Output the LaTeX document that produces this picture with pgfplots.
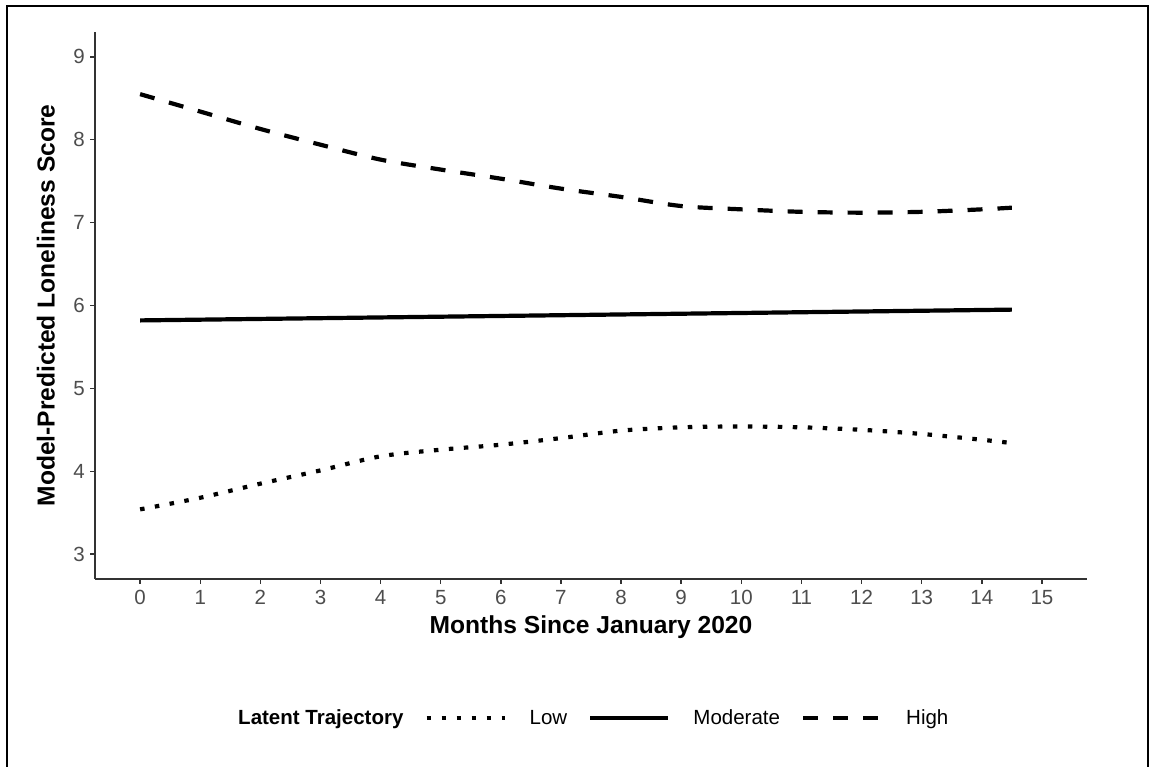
\documentclass[border=0pt]{standalone}
\usepackage{pgfplots}
\pgfplotsset{compat=1.18}
\usepackage{fontspec}
\setmainfont{Liberation Sans}
\definecolor{axgray}{HTML}{333333}
\definecolor{tkgray}{HTML}{4D4D4D}
\begin{document}
\begin{tikzpicture}[x=1bp,y=1bp]
\useasboundingbox (0,0) rectangle (1152,767);
\fill[white] (0,0) rectangle (1152,767);
\draw[line width=2bp] (7,-10) -- (7,761) -- (1148,761) -- (1148,-10);
\begin{axis}[
  at={(95bp,188bp)}, anchor=south west,
  width=992bp, height=547bp, scale only axis,
  xmin=-0.75, xmax=15.75, ymin=2.7, ymax=9.3,
  axis x line*=bottom, axis y line*=left,
  axis line style={line width=1.7bp, color=axgray},
  xtick={0,...,15}, ytick={3,...,9},
  tick align=outside, major tick length=5bp,
  tick style={line width=1.4bp, color=axgray},
  ticklabel style={font=\fontsize{20.5bp}{24bp}\selectfont, text=tkgray},
  xticklabel style={inner sep=0pt, yshift=-6bp},
  yticklabel style={inner sep=0pt, xshift=-5bp},
  /pgf/number format/assume math mode=true,
  xlabel={Months Since January 2020},
  ylabel={Model-Predicted Loneliness Score},
  label style={font=\bfseries\fontsize{24.6bp}{28bp}\selectfont},
  xlabel style={at={([yshift=-36bp]axis description cs:0.5,0)}, anchor=north, inner sep=0pt},
  ylabel style={at={([xshift=-40bp]axis description cs:0,0.5)}, anchor=south, inner sep=0pt},
  legend style={at={(axis description cs:0.121,-0.254)}, anchor=west, draw=none, fill=none,
    inner sep=0pt, font=\fontsize{20.5bp}{24bp}\selectfont, nodes={inner sep=0pt},
    /tikz/every odd column/.append style={column sep=23bp},
    /tikz/every even column/.append style={column sep=21bp}},
  legend columns=-1,
  legend image code/.code={\draw[#1] (0bp,0bp) -- (78bp,0bp);},
]
\addlegendimage{empty legend}
\addlegendentry{\textbf{Latent Trajectory}}
\addplot[black, line width=4.2bp, dash pattern=on 4.5bp off 10.5bp, smooth] coordinates {
(0,3.54)(1,3.68)(2,3.85)(3,4.01)(4,4.18)(5,4.26)(6,4.32)(7,4.40)(8,4.49)(9,4.53)(10,4.54)(11,4.53)(12,4.50)(13,4.45)(14,4.38)(14.5,4.34)};
\addlegendentry{Low}
\addplot[black, line width=4.2bp, solid] coordinates {(0,5.82)(14.5,5.95)};
\addlegendentry{Moderate}
\addplot[black, line width=4.2bp, dash pattern=on 15bp off 15bp, smooth] coordinates {
(0,8.55)(1,8.34)(2,8.13)(3,7.94)(4,7.76)(5,7.64)(6,7.53)(7,7.41)(8,7.31)(9,7.20)(10,7.16)(11,7.13)(12,7.12)(13,7.13)(14,7.16)(14.5,7.18)};
\addlegendentry{High}
\end{axis}
\end{tikzpicture}
\end{document}
